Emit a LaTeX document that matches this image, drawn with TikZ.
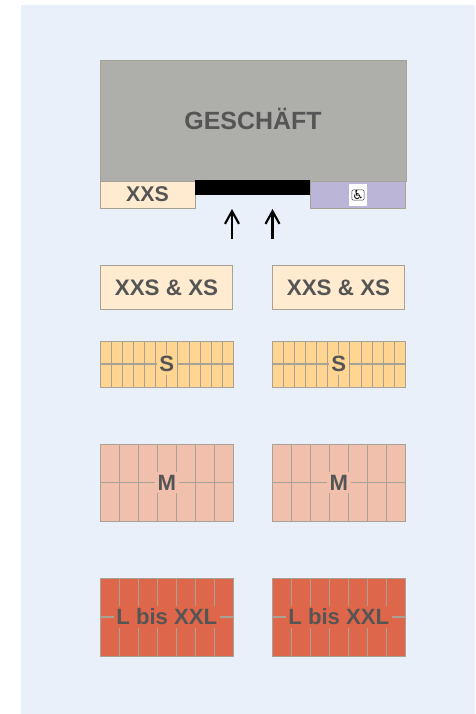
\documentclass[tikz,border=0pt]{standalone}
\usepackage{fontspec}
\setmainfont{Liberation Sans}
\newfontfamily\symfont{DejaVu Sans}
\usetikzlibrary{arrows.meta,positioning,calc}
\definecolor{pagebg}{HTML}{E9F0F9}
\definecolor{shopgray}{HTML}{AEAEAB}
\definecolor{xxsfill}{HTML}{FFEBCF}
\definecolor{wcfill}{HTML}{BBB6D8}
\definecolor{sfill}{HTML}{FFD591}
\definecolor{mfill}{HTML}{F1C0AC}
\definecolor{lfill}{HTML}{DE664A}
\definecolor{edge}{HTML}{A8A296}
\definecolor{ink}{HTML}{555555}

\begin{document}
\begin{tikzpicture}[x=0.75pt,y=-0.75pt,
  b/.style={draw=edge,line width=0.65pt,rectangle,inner sep=0pt,outer sep=0pt,anchor=north west},
  lab/.style={font=\bfseries\fontsize{16.6}{18}\selectfont,text=ink},
  frontlab/.style={font=\bfseries\fontsize{16.8}{18}\selectfont,text=ink},
  ar/.style={-{Straight Barb[length=9.5pt,width=10.5pt,line width=1.6pt]},line width=1.6pt,black},
  grid/.style={draw=edge,line width=0.8pt}]
\useasboundingbox (0,0) rectangle (475,714);
\fill[pagebg] (21,5) rectangle (475,714);
% shop front
\node[b,fill=shopgray,minimum width=229.5pt,minimum height=90.75pt] (shop) at (100,60) {};
\node[font=\bfseries\fontsize{18.7}{20}\selectfont,text=ink,above=34.75pt of shop.south] (shoplab) {GESCHÄFT};
\node[b,fill=xxsfill,minimum width=71.25pt,minimum height=20.25pt,frontlab,font=\bfseries\fontsize{16}{18}\selectfont] (xxs) at (100,181) {XXS};
\node[b,fill=wcfill,minimum width=71.5pt,minimum height=20.25pt] (wc) at (310.5,181) {};
\node[fill=white,minimum width=13.5pt,minimum height=16.5pt,inner sep=0pt] (wcbox) at (358,195) {};
\node[draw=black!75,line width=0.4pt,rounded corners=1pt,fill=white,inner sep=0.4pt,
  font=\symfont\fontsize{9.5}{9.5}\selectfont] (wcicon) at (wcbox) {♿};
\node[fill=black,minimum width=86.25pt,minimum height=11.25pt,inner sep=0pt,outer sep=0pt,anchor=north west] (door) at (195,180) {};
\coordinate (in1) at (232,239);
\coordinate (in1top) at (232,209);
\coordinate (in2) at (272.5,239);
\coordinate (in2top) at (272.5,209);
\draw[ar] (in1) -- (in1top);
\draw[ar] (in2) -- (in2top);
% front row
\node[b,fill=xxsfill,minimum width=99pt,minimum height=33pt,frontlab] (xl) at (100.5,265.5) {XXS \& XS};
\node[b,fill=xxsfill,minimum width=99pt,minimum height=33pt,frontlab,right=30pt of xl.north east,anchor=north west] (xr) {XXS \& XS};
% rows of spaces
\foreach \nm/\ya/\hgt/\ncol/\colr/\txt in {s/341/34.5pt/12/sfill/S,m/444/57.75pt/7/mfill/M,l/578/58.5pt/7/lfill/L bis XXL}{
  \foreach \side/\xa in {a/100,b/272}{
    \node[b,fill=\colr,minimum width=100.2pt,minimum height=\hgt] (\nm\side) at (\xa,\ya) {};
    \foreach \i in {1,...,\numexpr\ncol-1\relax}
      \draw[grid] ($(\nm\side.north west)!\i/\ncol!(\nm\side.north east)$) -- ($(\nm\side.south west)!\i/\ncol!(\nm\side.south east)$);
    \draw[grid] (\nm\side.west) -- (\nm\side.east);
    \node[lab,fill=\colr,inner sep=2pt] (\nm\side t) at (\nm\side) {\txt};
  }
}
\end{tikzpicture}
\end{document}
